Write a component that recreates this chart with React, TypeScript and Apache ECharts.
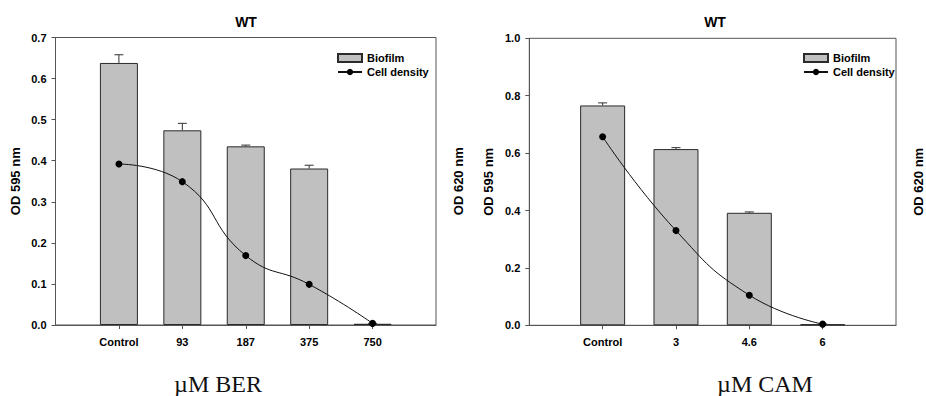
import React, { useEffect, useRef } from "react";
import * as echarts from "echarts";

// ---- Data ----
const berCategories = ["Control", "93", "187", "375", "750"];
const berBiofilm = [0.638, 0.474, 0.435, 0.381, 0.003];
const berBiofilmErr = [0.02, 0.017, 0.003, 0.008, 0.001];
const berCellDensity = [0.392, 0.349, 0.169, 0.099, 0.004];

const camCategories = ["Control", "3", "4.6", "6"];
const camBiofilm = [0.766, 0.614, 0.392, 0.004];
const camBiofilmErr = [0.009, 0.005, 0.003, 0.001];
const camCellDensity = [0.657, 0.33, 0.105, 0.004];

const berYTicks = { min: 0, max: 0.7, interval: 0.1 };
const camYTicks = { min: 0, max: 1.0, interval: 0.2 };

const titles = ["WT", "WT"];
const xTitles = ["\u00b5M BER", "\u00b5M CAM"];
const leftYName = "OD 595 nm";
const rightYName = "OD 620 nm";

const SANS = "'Liberation Sans', Arial, sans-serif";
const SERIF = "'Liberation Serif', 'Times New Roman', serif";
const AXIS_COLOR = "#555";
const BAR_FILL = "#c0c0c0";
const BAR_BORDER = "#2a2a2a";

const pad = (arr: any[]) => ["-", ...arr, "-"];

export default function App() {
  const ref = useRef<HTMLDivElement>(null);

  useEffect(() => {
    document.body.style.margin = "0";
    const chart = echarts.init(ref.current!, null, { renderer: "svg" });

    const grids = [
      { left: 55.5, top: 37.5, width: 380.5, height: 287.5 },
      { left: 529.3, top: 38.3, width: 372, height: 287 },
    ];

    const panels = [
      { cats: berCategories, bio: berBiofilm, err: berBiofilmErr, cell: berCellDensity, ticks: berYTicks, barWidth: 38 },
      { cats: camCategories, bio: camBiofilm, err: camBiofilmErr, cell: camCellDensity, ticks: camYTicks, barWidth: 45 },
    ];

    const labelStyle = { color: "#000", fontFamily: SANS, fontWeight: "bold" as const, fontSize: 11 };
    const nameStyle = { color: "#000", fontFamily: SANS, fontWeight: "bold" as const, fontSize: 13 };

    const xAxis = panels.map((p, i) => ({
      type: "category",
      gridIndex: i,
      data: ["", ...p.cats, ""],
      boundaryGap: false,
      axisLine: { lineStyle: { color: AXIS_COLOR, width: 1 } },
      axisTick: {
        show: true,
        length: 4,
        inside: false,
        lineStyle: { color: AXIS_COLOR },
        interval: (_idx: number, v: string) => v !== "",
      },
      axisLabel: { ...labelStyle, margin: 11, interval: 0 },
      splitLine: { show: false },
    }));

    const yAxis: any[] = [];
    panels.forEach((p, i) => {
      yAxis.push({
        type: "value",
        gridIndex: i,
        position: "left",
        min: p.ticks.min,
        max: p.ticks.max,
        interval: p.ticks.interval,
        name: leftYName,
        nameLocation: "middle",
        nameRotate: 90,
        nameGap: 34,
        nameTextStyle: { ...nameStyle },
        axisLine: { show: true, lineStyle: { color: AXIS_COLOR, width: 1 } },
        axisTick: { show: true, length: 4, inside: false, lineStyle: { color: AXIS_COLOR } },
        axisLabel: { ...labelStyle, margin: 9, formatter: (v: number) => v.toFixed(1) },
        splitLine: { show: false },
      });
      yAxis.push({
        type: "value",
        gridIndex: i,
        position: "right",
        min: p.ticks.min,
        max: p.ticks.max,
        interval: p.ticks.interval,
        name: rightYName,
        nameLocation: "middle",
        nameRotate: 90,
        nameGap: 16,
        nameTextStyle: { ...nameStyle },
        axisLine: { show: false },
        axisTick: { show: false },
        axisLabel: { show: false },
        splitLine: { show: false },
      });
    });

    const series: any[] = [];
    panels.forEach((p, i) => {
      series.push({
        name: "Biofilm",
        type: "bar",
        xAxisIndex: i,
        yAxisIndex: i * 2,
        data: pad(p.bio),
        barWidth: p.barWidth,
        itemStyle: { color: BAR_FILL, borderColor: BAR_BORDER, borderWidth: 1 },
        z: 2,
      });
      series.push({
        name: "Biofilm error",
        type: "custom",
        xAxisIndex: i,
        yAxisIndex: i * 2,
        data: p.bio.map((v, k) => [k + 1, v, p.err[k]]),
        z: 3,
        renderItem: (_params: any, api: any) => {
          const x = api.value(0);
          const y = api.value(1);
          const e = api.value(2);
          const base = api.coord([x, y]);
          const top = api.coord([x, y + e]);
          const half = 4.5;
          const style = { stroke: "#333", lineWidth: 1 };
          return {
            type: "group",
            children: [
              { type: "line", shape: { x1: base[0], y1: base[1], x2: top[0], y2: top[1] }, style },
              { type: "line", shape: { x1: top[0] - half, y1: top[1], x2: top[0] + half, y2: top[1] }, style },
            ],
          };
        },
      });
      series.push({
        name: "Cell density",
        type: "line",
        xAxisIndex: i,
        yAxisIndex: i * 2 + 1,
        data: pad(p.cell),
        smooth: 0.5,
        symbol: "circle",
        symbolSize: 7,
        lineStyle: { color: "#111", width: 1 },
        itemStyle: { color: "#000" },
        z: 4,
      });
    });

    const legendCommon = {
      orient: "vertical",
      itemWidth: 24,
      itemHeight: 8,
      itemGap: 2,
      data: [{ name: "Biofilm", icon: "rect" }, { name: "Cell density" }],
      textStyle: { ...labelStyle, lineHeight: 12, padding: [0, 0, 0, 0] },
      selectedMode: false,
      padding: 0,
    };

    chart.setOption({
      animation: false,
      backgroundColor: "#fff",
      grid: grids.map((g) => ({ ...g, show: true, borderColor: AXIS_COLOR, borderWidth: 1, backgroundColor: "transparent" })),
      xAxis,
      yAxis,
      legend: [
        { ...legendCommon, left: 337, top: 52 },
        { ...legendCommon, left: 803, top: 52 },
      ],
      graphic: [
        { type: "text", x: 246, y: 22, style: { text: titles[0], align: "center", verticalAlign: "middle", font: `bold 14px ${SANS}`, fill: "#000" } },
        { type: "text", x: 715, y: 22, style: { text: titles[1], align: "center", verticalAlign: "middle", font: `bold 14px ${SANS}`, fill: "#000" } },
        { type: "text", x: 218, y: 384, style: { text: xTitles[0], align: "center", verticalAlign: "middle", font: `24px ${SERIF}`, fill: "#111" } },
        { type: "text", x: 765, y: 384, style: { text: xTitles[1], align: "center", verticalAlign: "middle", font: `24px ${SERIF}`, fill: "#111" } },
      ],
      series,
    });

    return () => chart.dispose();
  }, []);

  return <div ref={ref} style={{ width: 926, height: 396 }} />;
}
